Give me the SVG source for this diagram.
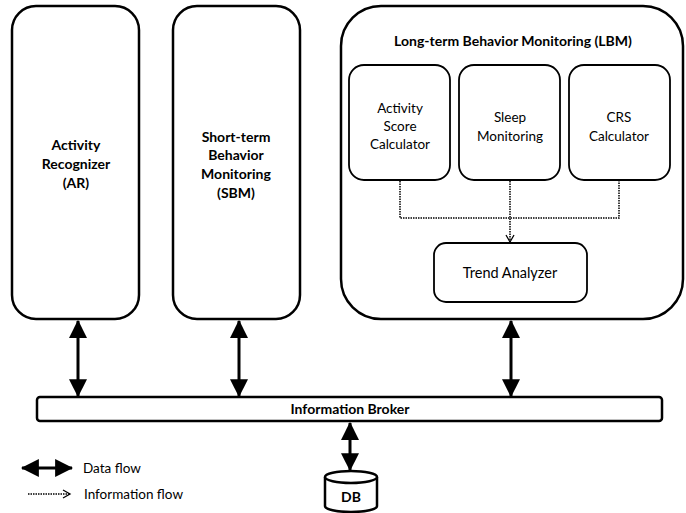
<svg xmlns="http://www.w3.org/2000/svg" width="686" height="513" viewBox="0 0 686 513">
<style>
.box{fill:#fff;stroke:#000;stroke-width:2.5}
.sub{fill:#fff;stroke:#000;stroke-width:1.8}
.b{font-family:Lato,"Open Sans",sans-serif;font-weight:bold;font-size:14px;text-anchor:middle;fill:#000}
.n{font-family:Lato,"Open Sans",sans-serif;font-size:13.5px;text-anchor:middle;fill:#000}
.l{font-family:Lato,"Open Sans",sans-serif;font-size:13.5px;fill:#000}
.data{stroke:#000;stroke-width:3;fill:none}
.info{stroke:#000;stroke-width:1.5;stroke-dasharray:1.5 1;fill:none}
</style>
<defs>
<marker id="ah" markerUnits="userSpaceOnUse" markerWidth="18" markerHeight="18" refX="15" refY="8" orient="auto-start-reverse" viewBox="0 0 16 16">
<path d="M0,0 L16,8 L0,16 Z" fill="#000"/>
</marker>
<marker id="oh" markerUnits="userSpaceOnUse" markerWidth="10" markerHeight="10" refX="8" refY="5" orient="auto" viewBox="0 0 10 10">
<path d="M1,1 L8,5 L1,9" fill="none" stroke="#000" stroke-width="1.3"/>
</marker>
</defs>
<g id="ar">
<rect class="box" x="12" y="6" width="127" height="313" rx="24"/>
<text class="b" x="76" y="150">Activity</text>
<text class="b" x="76" y="169">Recognizer</text>
<text class="b" x="76" y="188">(AR)</text>
</g>
<g id="sbm">
<rect class="box" x="173" y="6" width="127" height="313" rx="24"/>
<text class="b" x="236" y="142">Short-term</text>
<text class="b" x="236" y="160">Behavior</text>
<text class="b" x="236" y="179">Monitoring</text>
<text class="b" x="236" y="198">(SBM)</text>
</g>
<g id="lbm">
<rect class="box" x="341" y="6" width="342" height="313" rx="40"/>
<text class="b" x="513" y="46">Long-term Behavior Monitoring (LBM)</text>
</g>
<g id="asc">
<rect class="sub" x="349" y="65" width="101" height="115" rx="15"/>
<text class="n" x="400" y="113">Activity</text>
<text class="n" x="400" y="131">Score</text>
<text class="n" x="400" y="149">Calculator</text>
</g>
<g id="sleep">
<rect class="sub" x="459" y="65" width="101" height="115" rx="15"/>
<text class="n" x="510" y="122">Sleep</text>
<text class="n" x="510" y="141">Monitoring</text>
</g>
<g id="crs">
<rect class="sub" x="569" y="65" width="101" height="115" rx="15"/>
<text class="n" x="619" y="122">CRS</text>
<text class="n" x="619" y="141">Calculator</text>
</g>
<g id="trend">
<rect class="sub" x="434" y="243" width="153" height="59" rx="12"/>
<text class="n" x="510" y="278" style="font-size:14.5px">Trend Analyzer</text>
</g>
<g id="broker">
<rect class="box" x="37" y="397" width="625" height="24" rx="3"/>
<text class="b" x="350" y="414">Information Broker</text>
</g>
<g id="db">
<path class="box" d="M325,477 L325,506 A26,6 0 0 0 377,506 L377,477"/>
<ellipse class="box" cx="351" cy="477" rx="26" ry="6"/>
<text class="b" x="351" y="502">DB</text>
</g>
<g id="connectors">
<line class="data" x1="78" y1="321" x2="78" y2="396" marker-start="url(#ah)" marker-end="url(#ah)"/>
<line class="data" x1="239" y1="321" x2="239" y2="396" marker-start="url(#ah)" marker-end="url(#ah)"/>
<line class="data" x1="511" y1="321" x2="511" y2="396" marker-start="url(#ah)" marker-end="url(#ah)"/>
<line class="data" x1="350" y1="423" x2="350" y2="470" marker-start="url(#ah)" marker-end="url(#ah)"/>
<path class="info" d="M400,181 V218 H619 V181"/>
<line class="info" x1="510" y1="181" x2="510" y2="242" marker-end="url(#oh)"/>
</g>
<g id="legend">
<line class="data" x1="22" y1="468" x2="72" y2="468" marker-start="url(#ah)" marker-end="url(#ah)"/>
<text class="l" x="83" y="473">Data flow</text>
<line class="info" x1="28" y1="494" x2="70" y2="494" marker-end="url(#oh)"/>
<text class="l" x="84" y="499">Information flow</text>
</g>
</svg>
